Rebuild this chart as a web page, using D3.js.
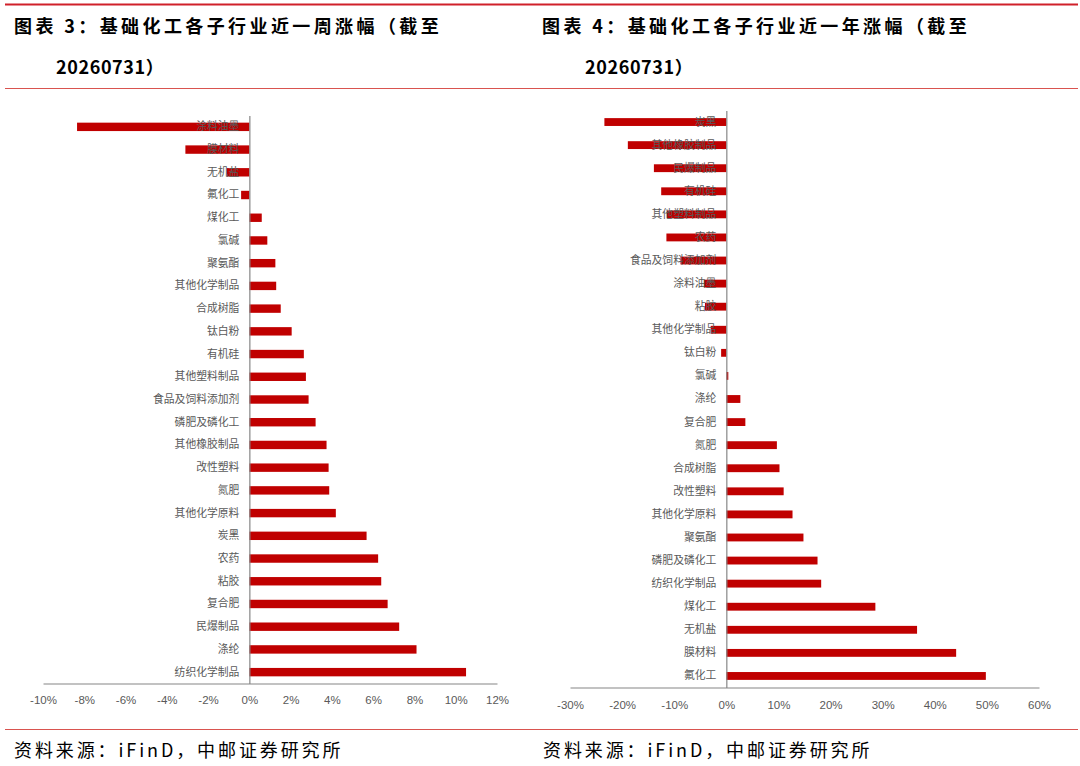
<!DOCTYPE html>
<html>
<head>
    <meta charset="utf-8">
    <title>基础化工各子行业涨幅</title>
    <script src="https://cdn.jsdelivr.net/npm/d3@7/dist/d3.min.js"></script>
    <style>
        body { margin: 0; background: #fff; }
        .title { font-family: "Noto Sans CJK SC", sans-serif; font-weight: bold; font-size: 18px; fill: #000; letter-spacing: 3.4px; }
        .title.second { letter-spacing: 0.6px; }
        .source { font-family: "Noto Sans CJK SC", serif; font-size: 18px; fill: #000; letter-spacing: 2.9px; }
        .cat-axis text { font-family: "Noto Sans CJK SC", sans-serif; font-size: 10.8px; fill: #595959; }
        .val-axis text { font-family: "Liberation Sans Narrow", "Liberation Sans", sans-serif; font-size: 11.5px; fill: #595959; }
        .cat-axis path, .val-axis path { stroke: #868686; stroke-width: 1.2; }
        .bar { fill: #c00000; }
    </style>
</head>
<body>
<div id="chart"></div>
<script>
    // 图表 3：近一周涨幅 (%)
    const weekCategories = ['涂料油墨', '膜材料', '无机盐', '氟化工', '煤化工', '氯碱', '聚氨酯', '其他化学制品',
        '合成树脂', '钛白粉', '有机硅', '其他塑料制品', '食品及饲料添加剂', '磷肥及磷化工', '其他橡胶制品',
        '改性塑料', '氮肥', '其他化学原料', '炭黑', '农药', '粘胶', '复合肥', '民爆制品', '涤纶', '纺织化学制品'];
    const weekValues = [-8.35, -3.1, -1.1, -0.4, 0.6, 0.87, 1.26, 1.3,
        1.52, 2.05, 2.64, 2.74, 2.87, 3.21, 3.74,
        3.84, 3.87, 4.19, 5.68, 6.24, 6.39, 6.7, 7.26, 8.1, 10.5];
    const weekTicks = [-10, -8, -6, -4, -2, 0, 2, 4, 6, 8, 10, 12];

    // 图表 4：近一年涨幅 (%)
    const yearCategories = ['炭黑', '其他橡胶制品', '民爆制品', '有机硅', '其他塑料制品', '农药', '食品及饲料添加剂',
        '涂料油墨', '粘胶', '其他化学制品', '钛白粉', '氯碱', '涤纶', '复合肥', '氮肥', '合成树脂', '改性塑料',
        '其他化学原料', '聚氨酯', '磷肥及磷化工', '纺织化学制品', '煤化工', '无机盐', '膜材料', '氟化工'];
    const yearValues = [-23.4, -18.9, -13.9, -12.5, -11.4, -11.5, -8.8,
        -4.3, -4.1, -3.0, -1.0, 0.38, 2.69, 3.65, 9.7, 10.2, 11.0,
        12.7, 14.8, 17.5, 18.2, 28.6, 36.6, 44.1, 49.8];
    const yearTicks = [-30, -20, -10, 0, 10, 20, 30, 40, 50, 60];

    const weekTitle = ['图表 3：基础化工各子行业近一周涨幅（截至', '20260731）'];
    const yearTitle = ['图表 4：基础化工各子行业近一年涨幅（截至', '20260731）'];
    const sourceText = '资料来源：iFinD，中邮证券研究所';

    const W = 1080, H = 766;

    const svg = d3.select('#chart').append('svg')
        .attr('width', W)
        .attr('height', H);

    // page rules
    svg.append('line').attr('x1', 5).attr('x2', 1078).attr('y1', 4.5).attr('y2', 4.5)
        .attr('stroke', '#d0202a').attr('stroke-width', 2.2);
    svg.append('line').attr('x1', 5).attr('x2', 1078).attr('y1', 88.5).attr('y2', 88.5)
        .attr('stroke', '#d9534f').attr('stroke-width', 1);
    svg.append('line').attr('x1', 5).attr('x2', 1078).attr('y1', 729.5).attr('y2', 729.5)
        .attr('stroke', '#d9534f').attr('stroke-width', 1);

    function drawTitle(lines, x1, x2) {
        svg.append('text').attr('class', 'title').attr('x', x1).attr('y', 33).text(lines[0]);
        svg.append('text').attr('class', 'title second').attr('x', x2).attr('y', 74).text(lines[1]);
    }
    drawTitle(weekTitle, 14, 56);
    drawTitle(yearTitle, 542, 585);

    svg.append('text').attr('class', 'source').attr('x', 14).attr('y', 757).text(sourceText);
    svg.append('text').attr('class', 'source').attr('x', 543).attr('y', 757).text(sourceText);

    function drawChart(cfg) {
        const x = d3.scaleLinear()
            .domain(d3.extent(cfg.ticks))
            .range([cfg.left, cfg.right]);

        const y = d3.scaleBand()
            .domain(cfg.categories)
            .range([cfg.top, cfg.bottom])
            .paddingInner(cfg.pad)
            .paddingOuter(cfg.pad / 2);

        const data = cfg.categories.map((c, i) => ({ category: c, value: cfg.values[i] }));

        const g = svg.append('g');

        g.selectAll('rect')
            .data(data)
            .enter().append('rect')
            .attr('class', 'bar')
            .attr('x', d => x(Math.min(0, d.value)))
            .attr('y', d => y(d.category))
            .attr('width', d => Math.abs(x(d.value) - x(0)))
            .attr('height', y.bandwidth());

        g.append('g')
            .attr('class', 'val-axis')
            .attr('transform', 'translate(0,' + cfg.bottom + ')')
            .call(d3.axisBottom(x).tickValues(cfg.ticks).tickSize(0).tickPadding(cfg.tickPad)
                .tickFormat(d => d + '%'));

        g.append('g')
            .attr('class', 'cat-axis')
            .attr('transform', 'translate(' + x(0) + ',0)')
            .call(d3.axisLeft(y).tickSize(0).tickPadding(10));
    }

    drawChart({
        categories: weekCategories, values: weekValues, ticks: weekTicks,
        left: 43, right: 497, top: 115.5, bottom: 683.5, pad: 0.63, tickPad: 12
    });

    drawChart({
        categories: yearCategories, values: yearValues, ticks: yearTicks,
        left: 570, right: 1039, top: 110.5, bottom: 687.5, pad: 0.66, tickPad: 13
    });
</script>
</body>
</html>
